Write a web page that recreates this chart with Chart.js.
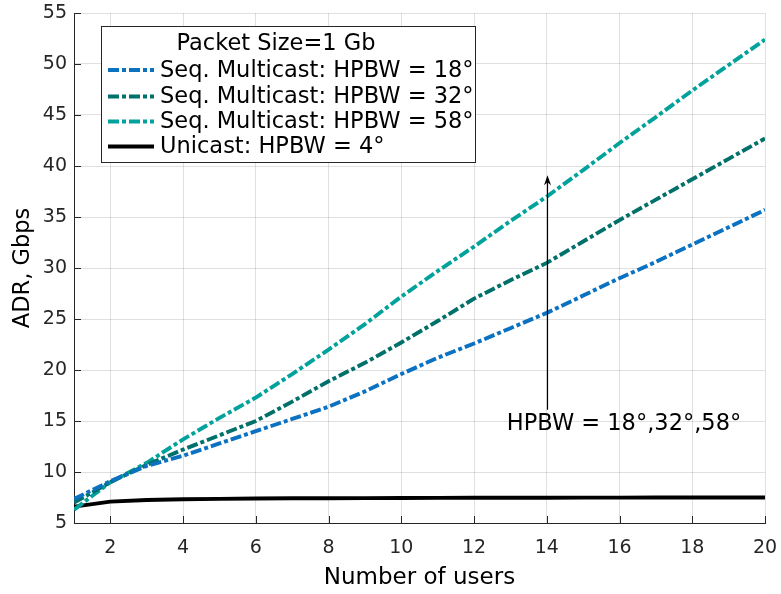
<!DOCTYPE html>
<html>
<head>
<meta charset="utf-8">
<script src="https://cdn.jsdelivr.net/npm/chart.js@4.4.1/dist/chart.umd.min.js"></script>
<style>
  html, body { margin: 0; padding: 0; background: #ffffff; }
  #wrap { width: 781px; height: 594px; }
</style>
</head>
<body>
<div id="wrap"><canvas id="c" width="781" height="594"></canvas></div>
<script>
// ---- data ----
const users = [1,2,3,4,5,6,7,8,9,10,11,12,13,14,15,16,17,18,19,20];
const seq18 = [7.35,9.1,10.6,11.6,12.8,14.0,15.2,16.4,17.9,19.6,21.2,22.6,24.1,25.6,27.3,29.0,30.6,32.3,34.0,35.7];
const seq32 = [7.0,9.0,10.7,12.2,13.6,15.0,16.9,18.9,20.7,22.7,24.8,27.0,28.8,30.5,32.6,34.7,36.7,38.7,40.7,42.7];
const seq58 = [6.3,9.0,10.9,13.2,15.3,17.3,19.6,22.0,24.5,27.2,29.7,32.1,34.6,37.0,39.6,42.25,44.8,47.4,49.9,52.4];
const unicast = [6.6,7.1,7.25,7.33,7.37,7.4,7.42,7.43,7.44,7.45,7.46,7.47,7.48,7.48,7.49,7.49,7.5,7.5,7.5,7.5];
const seriesLabels = ['Seq. Multicast: HPBW = 18°','Seq. Multicast: HPBW = 32°','Seq. Multicast: HPBW = 58°','Unicast: HPBW = 4°'];
const legendTitle = 'Packet Size=1 Gb';
const xTicks = [2,4,6,8,10,12,14,16,18,20];
const xTitle = 'Number of users';
const yTitle = 'ADR, Gbps';
const arrowX = 14, arrowFrom = 16.1, arrowTo = 39.1;
const annotText = 'HPBW = 18°,32°,58°';
const annotX = 12.9, annotY = 14.7;

const FONT = 'DejaVu Sans';
const AX = '#262626';
const DASH = [11, 3, 4, 3];

const ds = (label, data, color, dash) => ({
  label, data: users.map((u,i)=>({x:u, y:data[i]})),
  borderColor: color, backgroundColor: color, borderWidth: 3.9,
  borderDash: dash, borderCapStyle: 'butt', pointRadius: 0, tension: 0, fill: false
});

const innerTicks = {
  id: 'innerTicks',
  afterDraw(chart) {
    const {ctx, chartArea: a, scales: {x, y}} = chart;
    ctx.save();
    ctx.strokeStyle = AX; ctx.lineWidth = 1;
    ctx.beginPath();
    x.ticks.forEach(t => { const px = Math.round(x.getPixelForValue(t.value)) + 0.5; ctx.moveTo(px, a.bottom); ctx.lineTo(px, a.bottom - 7); });
    y.ticks.forEach(t => { const py = Math.round(y.getPixelForValue(t.value)) + 0.5; ctx.moveTo(a.left, py); ctx.lineTo(a.left + 7, py); });
    ctx.stroke();
    ctx.restore();
  }
};

const annot = {
  id: 'annot',
  afterDraw(chart) {
    const {ctx, scales: {x, y}} = chart;
    const px = Math.round(x.getPixelForValue(arrowX)) + 0.5;
    const y0 = y.getPixelForValue(arrowFrom), y1 = y.getPixelForValue(arrowTo);
    ctx.save();
    ctx.strokeStyle = '#000'; ctx.fillStyle = '#000'; ctx.lineWidth = 1.2;
    ctx.beginPath(); ctx.moveTo(px, y0); ctx.lineTo(px, y1 + 6); ctx.stroke();
    ctx.beginPath(); ctx.moveTo(px, y1); ctx.lineTo(px - 3.5, y1 + 10); ctx.lineTo(px, y1 + 7); ctx.lineTo(px + 3.5, y1 + 10); ctx.closePath(); ctx.fill();
    ctx.font = '22.5px "' + FONT + '"'; ctx.textBaseline = 'middle'; ctx.textAlign = 'left';
    ctx.fillText(annotText, x.getPixelForValue(annotX), y.getPixelForValue(annotY));
    ctx.restore();
  }
};

const boxLegend = {
  id: 'boxLegend',
  afterDraw(chart) {
    const {ctx} = chart;
    const bx = 101.5, by = 26.5, bw = 374, bh = 136;
    ctx.save();
    ctx.fillStyle = '#fff'; ctx.fillRect(bx, by, bw, bh);
    ctx.strokeStyle = '#262626'; ctx.lineWidth = 1; ctx.strokeRect(bx, by, bw, bh);
    ctx.fillStyle = '#000'; ctx.font = '22.5px "' + FONT + '"'; ctx.textBaseline = 'middle';
    ctx.textAlign = 'center'; ctx.fillText(legendTitle, 276, 44);
    ctx.textAlign = 'left';
    const rows = [70, 96.5, 121.5, 146.5];
    chart.data.datasets.forEach((d, i) => {
      ctx.save();
      ctx.strokeStyle = d.borderColor; ctx.lineWidth = d.borderWidth;
      ctx.setLineDash(d.borderDash || []);
      ctx.beginPath(); ctx.moveTo(108, rows[i]); ctx.lineTo(154, rows[i]); ctx.stroke();
      ctx.restore();
      ctx.fillText(d.label, 160, rows[i] + 1);
    });
    ctx.restore();
  }
};

Chart.defaults.font.family = FONT;
Chart.defaults.color = AX;

new Chart(document.getElementById('c'), {
  type: 'line',
  data: {
    datasets: [
      ds(seriesLabels[0], seq18, '#0A72C0', DASH),
      ds(seriesLabels[1], seq32, '#00706A', DASH),
      ds(seriesLabels[2], seq58, '#00A29B', DASH),
      ds(seriesLabels[3], unicast, '#000000', [])
    ]
  },
  options: {
    responsive: false, animation: false,
    layout: { padding: { left: 0, top: 13, right: 16, bottom: 0 } },
    plugins: { legend: { display: false }, tooltip: { enabled: false } },
    scales: {
      x: {
        type: 'linear', min: 1, max: 20,
        afterBuildTicks: s => { s.ticks = xTicks.map(v => ({ value: v })); },
        afterFit: s => { s.height = 71; s.paddingLeft = 0; s.paddingRight = 0; },
        grid: { color: 'rgba(38,38,38,0.14)', drawTicks: false, lineWidth: 1 },
        border: { display: true, color: AX, width: 1 },
        ticks: { font: { size: 19 }, color: AX, padding: 14, maxRotation: 0 },
        title: { display: true, text: xTitle, font: { size: 23 }, color: '#000', padding: { top: 0, bottom: 2 } }
      },
      y: {
        type: 'linear', min: 5, max: 55,
        ticks: { stepSize: 5, font: { size: 19 }, color: AX, padding: 7 },
        afterFit: s => { s.width = 74; s.paddingTop = 0; s.paddingBottom = 0; },
        grid: { color: 'rgba(38,38,38,0.14)', drawTicks: false, lineWidth: 1 },
        border: { display: true, color: AX, width: 1 },
        title: { display: true, text: yTitle, font: { size: 22.5 }, color: '#000', padding: { top: 10, bottom: 0 } }
      }
    }
  },
  plugins: [innerTicks, annot, boxLegend]
});
</script>
</body>
</html>
